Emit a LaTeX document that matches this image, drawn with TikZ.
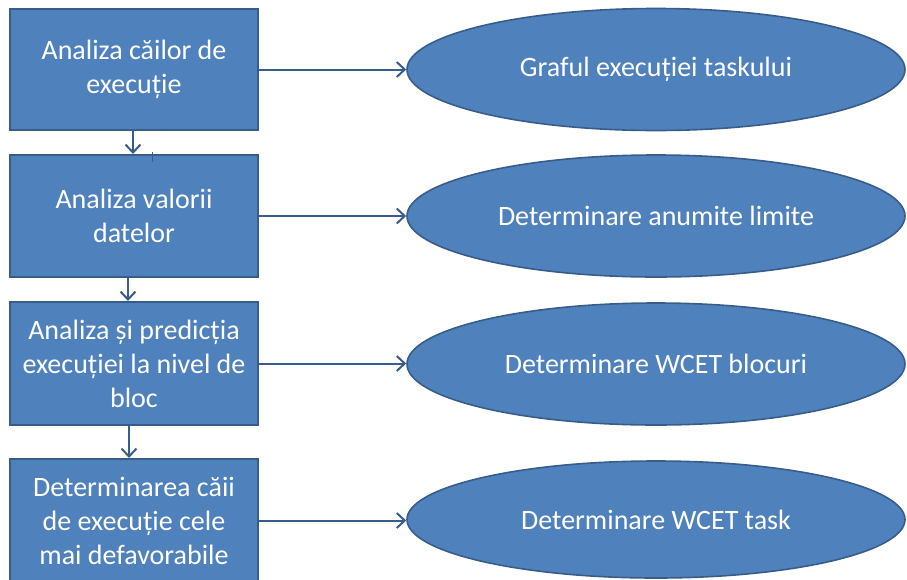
\documentclass[tikz,border=0pt]{standalone}
\usepackage{fontspec}
\setmainfont{Carlito}
\usetikzlibrary{arrows.meta,shapes.geometric}
\definecolor{boxfill}{HTML}{4F81BD}
\definecolor{boxline}{HTML}{385D8A}
\begin{document}
\begin{tikzpicture}[x=1pt,y=-1pt,
  stepbox/.style={rectangle, fill=boxfill, draw=boxline, line width=2pt,
    minimum width=248pt, minimum height=121pt, inner sep=0pt, text=white,
    align=center, font=\fontsize{28}{34}\selectfont},
  result/.style={ellipse, fill=boxfill, draw=boxline, line width=1.6pt,
    minimum width=498pt, minimum height=121pt, inner sep=0pt, text=white,
    font=\fontsize{28}{34}\selectfont},
  link/.style={draw=boxline, line width=2pt,
    -{Straight Barb[length=8pt,width=15pt,line width=2pt]}}]
\useasboundingbox (0,0) rectangle (907,579);

% analysis steps
\node[stepbox] (b1) at (134,69.5) {Analiza căilor de\\execuție};
\node[stepbox, minimum height=122pt] (b2) at (134,216) {Analiza valorii\\datelor};
\node[stepbox, minimum height=123pt] (b3) at (134,363.5) {Analiza și predicția\\execuției la nivel de\\bloc};
\node[stepbox, minimum height=123pt] (b4) at (134,520.5) {Determinarea căii\\de execuție cele\\mai defavorabile};

% results of each step
\node[result, minimum height=122pt] (e1) at (656,69.5) {Graful execuției taskului};
\node[result, minimum height=122pt] (e2) at (656,216) {Determinare anumite limite};
\node[result, minimum height=122pt] (e3) at (656,364) {Determinare WCET blocuri};
\node[result, minimum height=117pt] (e4) at (656,519.5) {Determinare WCET task};

% step to step
\draw[link] ([xshift=-1pt]b1.south) -- ([xshift=-1pt]b2.north);
\draw[link] ([xshift=-6pt]b2.south) -- ([xshift=-6pt]b3.north);
\draw[link] ([xshift=-5pt]b3.south) -- ([xshift=-5pt]b4.north);
\draw[draw=boxline, line width=1pt] ([xshift=18pt,yshift=-8pt]b2.north) -- ([xshift=18pt,yshift=2pt]b2.north);

% step to result
\draw[link] (b1.east) -- (b1.east -| e1.west);
\draw[link] (b2.east) -- (b2.east -| e2.west);
\draw[link] (b3.east) -- (b3.east -| e3.west);
\draw[link] (b4.east) -- (b4.east -| e4.west);
\end{tikzpicture}
\end{document}
